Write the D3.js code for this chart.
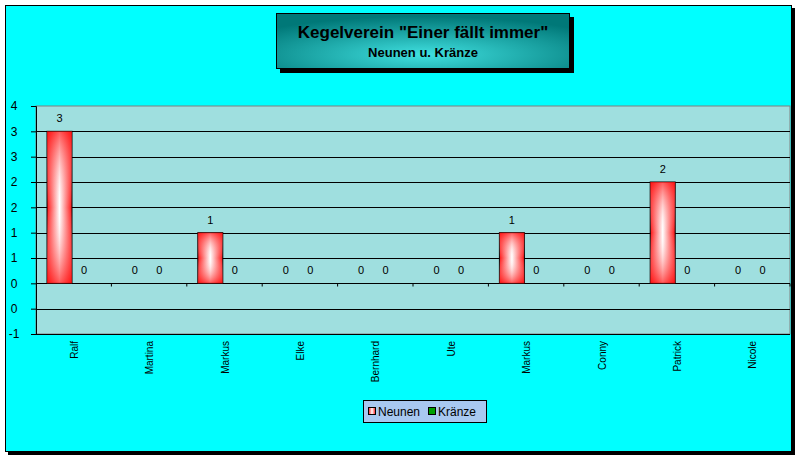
<!DOCTYPE html><html><head><meta charset="utf-8"><script src="https://cdn.jsdelivr.net/npm/d3@7"></script>
<style>body{margin:0;background:#fff}</style></head><body><svg id="c" width="800" height="460"></svg><script>
const categories=["Ralf","Martina","Markus","Elke","Bernhard","Ute","Markus","Conny","Patrick","Nicole"];
const neunen=[3,0,1,0,0,0,1,0,2,0];
const kraenze=[0,0,0,0,0,0,0,0,0,0];
const tickValues=[-1,-0.5,0,0.5,1,1.5,2,2.5,3,3.5];
const tickLabels=["-1","0","0","1","1","2","2","3","3","4"];
const svg=d3.select("#c");
const defs=svg.append("defs");
const g1=defs.append("linearGradient").attr("id","rg");
g1.append("stop").attr("offset","0").attr("stop-color","#ff1010");
g1.append("stop").attr("offset","0.5").attr("stop-color","#ffffff");
g1.append("stop").attr("offset","1").attr("stop-color","#ff1010");
const rad=defs.append("radialGradient").attr("id","tg").attr("cx","0.5").attr("cy","0.75").attr("r","0.7");
rad.append("stop").attr("offset","0").attr("stop-color","#40e0e0");
rad.append("stop").attr("offset","1").attr("stop-color","#007878");
const vg=defs.append("linearGradient").attr("id","vg").attr("x1",0).attr("y1",0).attr("x2",0).attr("y2",1);
vg.append("stop").attr("offset","0").attr("stop-color","#ff1010");
vg.append("stop").attr("offset","0.5").attr("stop-color","#ffffff").attr("stop-opacity",0);
vg.append("stop").attr("offset","1").attr("stop-color","#ff1010");
// chart area
svg.append("rect").attr("x",8).attr("y",8).attr("width",787).attr("height",447).attr("fill","#000");
svg.append("rect").attr("x",5.5).attr("y",5.5).attr("width",786).attr("height",446).attr("fill","#00ffff").attr("stroke","#000");
const L=36,R=790,T=106,B=334;
const x=d3.scaleBand().domain(d3.range(categories.length)).range([L,R]);
const y=d3.scaleLinear().domain([-1,3.5]).range([B,T]);
svg.append("rect").attr("x",L).attr("y",T).attr("width",R-L).attr("height",B-T).attr("fill","#9fdfdf").attr("stroke","#808080");
svg.append("g").selectAll("line").data(tickValues.filter(v=>v<3.5)).join("line")
 .attr("x1",L).attr("x2",R).attr("y1",d=>Math.round(y(d))+0.5).attr("y2",d=>Math.round(y(d))+0.5).attr("stroke","#000");
const ya=svg.append("g").attr("transform",`translate(${L},0)`).call(d3.axisLeft(y).tickValues(tickValues).tickSize(5).tickFormat((d,i)=>tickLabels[i]));
ya.select(".domain").attr("stroke","#000");
ya.selectAll("text").attr("font-family","Arial, Liberation Sans").attr("font-size",12).attr("fill","#000").attr("x",-22).attr("text-anchor","middle");
// x axis at zero
const xa=svg.append("g").attr("transform",`translate(0,${Math.round(y(0))+0.5})`).call(d3.axisBottom(x).tickSize(3).tickFormat(""));
xa.selectAll(".tick line").attr("transform",`translate(${x.bandwidth()/2},0)`);
xa.select(".domain").remove();
svg.selectAll(".cl").data(categories).join("text").attr("class","cl")
 .attr("transform",(d,i)=>`translate(${x(i)+x.bandwidth()/2+4},341) rotate(-90)`).attr("text-anchor","end")
 .attr("font-family","Arial, Liberation Sans").attr("font-size",10).text(d=>d);
const bw=25, off=11;
const bars=svg.append("g").selectAll("g").data(neunen).join("g");
bars.append("rect").attr("x",(d,i)=>x(i)+off).attr("width",bw).attr("y",d=>y(d)).attr("height",d=>y(0)-y(d)).attr("fill","url(#rg)").attr("stroke","#000").attr("display",d=>d>0?null:"none");
bars.append("rect").attr("x",(d,i)=>x(i)+off).attr("width",bw).attr("y",d=>y(d)).attr("height",d=>y(0)-y(d)).attr("fill","url(#vg)").attr("opacity",0.7).attr("display",d=>d>0?null:"none");
const lab=(arr,dx,cls)=>svg.selectAll("."+cls).data(arr).join("text").attr("class",cls)
 .attr("x",(d,i)=>x(i)+dx).attr("y",d=>y(d)-9).attr("text-anchor","middle")
 .attr("font-family","Arial, Liberation Sans").attr("font-size",11).text(d=>d);
lab(neunen,off+bw/2,"ln");
lab(kraenze,off+bw+12,"lk");
// title
svg.append("rect").attr("x",280).attr("y",17).attr("width",294).attr("height",56).attr("fill","#000");
svg.append("rect").attr("x",276.5).attr("y",13.5).attr("width",293).attr("height",55).attr("fill","url(#tg)").attr("stroke","#000");
svg.append("text").attr("x",423).attr("y",38).attr("text-anchor","middle").attr("font-family","Arial, Liberation Sans").attr("font-weight","bold").attr("font-size",17).text('Kegelverein "Einer fällt immer"');
svg.append("text").attr("x",423).attr("y",57).attr("text-anchor","middle").attr("font-family","Arial, Liberation Sans").attr("font-weight","bold").attr("font-size",13).text("Neunen u. Kränze");
// legend
svg.append("rect").attr("x",363.5).attr("y",400.5).attr("width",123).attr("height",22).attr("fill","#a8c8f0").attr("stroke","#000");
const lg=[["Neunen","url(#rg)",368],["Kränze","#00a000",428]];
lg.forEach(([t,f,lx])=>{svg.append("rect").attr("x",lx+0.5).attr("y",407.5).attr("width",7).attr("height",7).attr("fill",f).attr("stroke","#000");
svg.append("text").attr("x",lx+10).attr("y",416).attr("font-family","Arial, Liberation Sans").attr("font-size",12).text(t);});
</script></body></html>
